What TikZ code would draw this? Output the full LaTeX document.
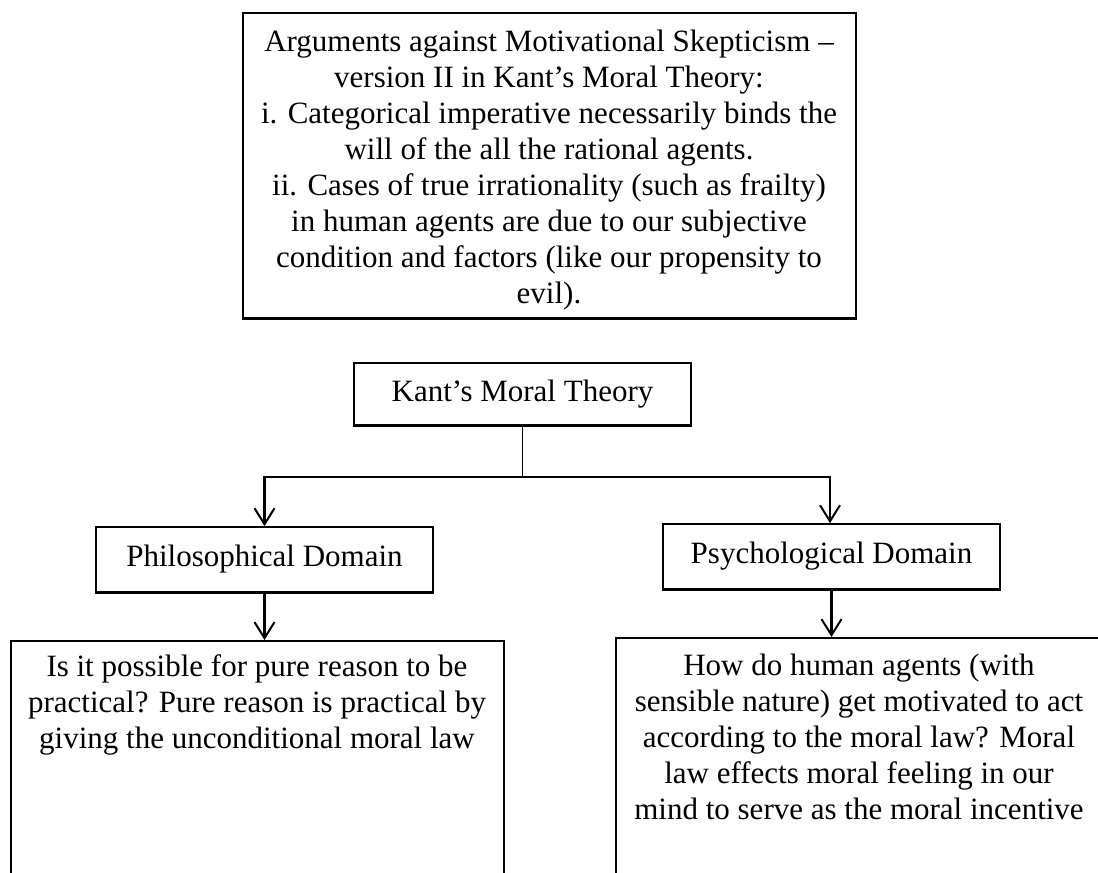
\documentclass[tikz,border=0pt]{standalone}
\usepackage{fontspec}
\setmainfont{Liberation Serif}
\usetikzlibrary{arrows.meta}
\begin{document}
\begin{tikzpicture}[x=1pt,y=-1pt,
  box/.style={draw, line width=1.8pt, inner sep=0pt},
  boxbase/.style={line width=3pt},
  txt/.style={align=center, font=\fontsize{31}{36}\selectfont, inner sep=0pt},
  arr/.style={line width=2.2pt, -{Straight Barb[length=16pt,width=20pt,line width=2pt]}}]
\useasboundingbox (0,0) rectangle (1098,873);
\clip (0,0) rectangle (1098,873);
% top box
\node[box, minimum width=613pt, minimum height=305pt] (top) at (549.5,165.5) {};
\node[txt] (toptext) at (549,170) {Arguments against Motivational Skepticism –\\
version II in Kant’s Moral Theory:\\
i. Categorical imperative necessarily binds the\\
will of the all the rational agents.\\
ii. Cases of true irrationality (such as frailty)\\
in human agents are due to our subjective\\
condition and factors (like our propensity to\\
evil).};
% tree
\node[box, txt, minimum width=337pt, minimum height=62pt] (kant) at (522.5,394) {Kant’s Moral Theory};
\node[box, txt, minimum width=337pt, minimum height=65pt] (phil) at (264.5,559.5) {Philosophical Domain};
\node[box, txt, minimum width=337pt, minimum height=65pt] (psych) at (831.5,556.5) {Psychological Domain};
\node[box, anchor=north west, minimum width=493pt, minimum height=300pt] (lb) at (10,640) {};
\node[box, anchor=north west, minimum width=500pt, minimum height=300pt] (rb) at (615,637) {};
\node[txt] (lbt) at (257,705) {Is it possible for pure reason to be\\
practical? Pure reason is practical by\\
giving the unconditional moral law};
\node[txt] (rbt) at (859,737) {How do human agents (with\\
sensible nature) get motivated to act\\
according to the moral law? Moral\\
law effects moral feeling in our\\
mind to serve as the moral incentive};
% heavier bottom edges
\draw[boxbase] (top.south west) -- (top.south east);
\draw[boxbase] (kant.south west) -- (kant.south east);
\draw[boxbase] (phil.south west) -- (phil.south east);
\draw[boxbase] (psych.south west) -- (psych.south east);
% connectors
\coordinate (j) at (522.5,477);
\coordinate (jl) at (264.5,477);
\coordinate (jr) at (830,477);
\draw[line width=1.1pt] (kant.south) -- (j);
\draw[line width=2.6pt, line cap=rect] (jl) -- (jr);
\draw[arr] (jl) -- (jl |- phil.north);
\draw[arr] (jr) -- (jr |- psych.north);
\draw[arr] (phil.south) -- (phil.south |- lb.north);
\draw[arr] (psych.south) -- (psych.south |- rb.north);
\end{tikzpicture}
\end{document}
